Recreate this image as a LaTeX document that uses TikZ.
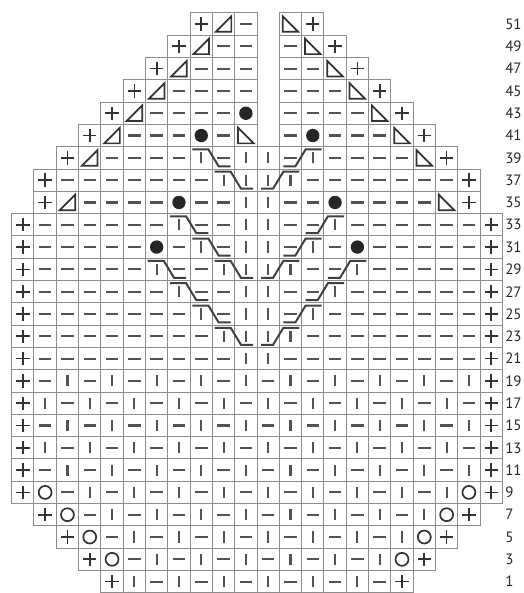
\documentclass[tikz,border=0pt]{standalone}
\usepackage{fontspec}
\newfontfamily\nrfont{PT Sans}

\tikzset{
  zelle/.style={draw=black!45, line width=0.7pt},
  strich/.style={draw=black!68, line width=1.5pt},
  kreuz/.style={draw=black!80, line width=1.2pt},
  zopf/.style={draw=black!75, line width=1.4pt},
  nr/.style={anchor=west, inner sep=0pt, text=black!85,
    font=\nrfont\fontsize{10.5}{12}\selectfont},
  % Kaestchen mit Symbol
  pics/re/.style={code={\draw[zelle] (0,0) rectangle (1,1);
    \draw[strich] (0.5,0.25) -- (0.5,0.75);}},
  pics/li/.style={code={\draw[zelle] (0,0) rectangle (1,1);
    \draw[strich] (0.22,0.5) -- (0.78,0.5);}},
  pics/pl/.style={code={\draw[zelle] (0,0) rectangle (1,1);
    \draw[kreuz] (0.5,0.2) -- (0.5,0.8) (0.2,0.5) -- (0.8,0.5);}},
  pics/um/.style={code={\draw[zelle] (0,0) rectangle (1,1);
    \draw[kreuz] (0.5,0.5) circle (0.29);}},
  pics/nu/.style={code={\draw[zelle] (0,0) rectangle (1,1);
    \fill[black!85] (0.5,0.5) circle (0.3);}},
  pics/al/.style={code={\draw[zelle] (0,0) rectangle (1,1);
    \draw[kreuz, line join=miter] (0.15,0.15) -- (0.85,0.15) -- (0.85,0.85) -- cycle;}},
  pics/ar/.style={code={\draw[zelle] (0,0) rectangle (1,1);
    \draw[kreuz, line join=miter] (0.15,0.85) -- (0.15,0.15) -- (0.85,0.15) -- cycle;}},
  pics/lu/.style={code={}},
  % Zopf ueber zwei Maschen
  pics/zl/.style={code={\draw[zopf] (0.1,0.88) -- (0.82,0.88) -- (1.28,0.12) -- (1.82,0.12);}},
  pics/zr/.style={code={\draw[zopf] (0.18,0.12) -- (0.72,0.12) -- (1.18,0.88) -- (1.9,0.88);}}
}

\newcommand\reihe[3]{%
  \foreach \sy [count=\xx from #2] in {#3} {\pic at (\xx,#1) {\sy};}}

\begin{document}
\begin{tikzpicture}[x=0.55cm, y=0.55cm]
    \useasboundingbox (-0.524,-0.01) rectangle (22.942,26.578);

    % Bündchen unten
    \reihe{0}{4}{pl,re,li,re,li,re,li,re,li,re,li,re,li,pl}
    \reihe{1}{3}{pl,um,li,re,li,re,li,re,li,re,li,re,li,re,um,pl}
    \reihe{2}{2}{pl,um,li,re,li,re,li,re,li,re,li,re,li,re,li,re,um,pl}
    \reihe{3}{1}{pl,um,li,re,li,re,li,re,li,re,li,re,li,re,li,re,li,re,um,pl}
    \reihe{4}{0}{pl,um,li,re,li,re,li,re,li,re,li,re,li,re,li,re,li,re,li,re,um,pl}
    \foreach \k in {5,7,9}
      \reihe{\k}{0}{pl,li,re,li,re,li,re,li,re,li,re,li,re,li,re,li,re,li,re,li,re,pl};
    \foreach \k in {6,8}
      \reihe{\k}{0}{pl,re,li,re,li,re,li,re,li,re,li,re,li,re,li,re,li,re,li,re,li,pl};

    % Mittelteil mit Zöpfen
    \reihe{10}{0}{pl,li,li,li,li,li,li,li,li,li,re,re,li,li,li,li,li,li,li,li,li,pl}
    \reihe{11}{0}{pl,li,li,li,li,li,li,li,li,re,re,re,re,li,li,li,li,li,li,li,li,pl}
    \reihe{12}{0}{pl,li,li,li,li,li,li,li,re,li,re,re,li,re,li,li,li,li,li,li,li,pl}
    \reihe{13}{0}{pl,li,li,li,li,li,li,re,li,li,re,re,li,li,re,li,li,li,li,li,li,pl}
    \reihe{14}{0}{pl,li,li,li,li,li,re,li,li,re,re,re,re,li,li,re,li,li,li,li,li,pl}
    \reihe{15}{0}{pl,li,li,li,li,li,nu,li,re,li,re,re,li,re,li,nu,li,li,li,li,li,pl}
    \reihe{16}{0}{pl,li,li,li,li,li,li,re,li,li,re,re,li,li,re,li,li,li,li,li,li,pl}
    \reihe{17}{1}{pl,al,li,li,li,li,nu,li,li,re,re,li,li,nu,li,li,li,li,ar,pl}
    \reihe{18}{1}{pl,li,li,li,li,li,li,li,re,re,re,re,li,li,li,li,li,li,li,pl}
    \reihe{19}{2}{pl,al,li,li,li,li,re,li,re,re,li,re,li,li,li,li,ar,pl}

    % Spitze, zweigeteilt
    \reihe{20}{3}{pl,al,li,li,li,nu,li,ar,lu,li,nu,li,li,li,ar,pl}
    \reihe{21}{4}{pl,al,li,li,li,li,nu,lu,li,li,li,li,ar,pl}
    \reihe{22}{5}{pl,al,li,li,li,li,lu,li,li,li,ar,pl}
    \reihe{23}{6}{pl,al,li,li,li,lu,li,li,ar,pl}
    \reihe{24}{7}{pl,al,li,li,lu,li,ar,pl}
    \reihe{25}{8}{pl,al,li,lu,ar,pl}

    % Zöpfe
    \pic at (9,11) {zl};  \pic at (11,11) {zr};
    \pic at (8,12) {zl};  \pic at (12,12) {zr};
    \pic at (7,13) {zl};  \pic at (13,13) {zr};
    \pic at (6,14) {zl};  \pic at (9,14) {zl};
    \pic at (11,14) {zr}; \pic at (14,14) {zr};
    \pic at (8,15) {zl};  \pic at (12,15) {zr};
    \pic at (7,16) {zl};  \pic at (13,16) {zr};
    \pic at (9,18) {zl};  \pic at (11,18) {zr};
    \pic at (8,19) {zl};  \pic at (12,19) {zr};

    % Reihennummern
    \foreach \k in {0,...,25} {
      \pgfmathtruncatemacro\nn{2*\k+1}
      \node[nr] (r\nn) at (22.12,\k+0.5) {\nn};
    }
\end{tikzpicture}
\end{document}
